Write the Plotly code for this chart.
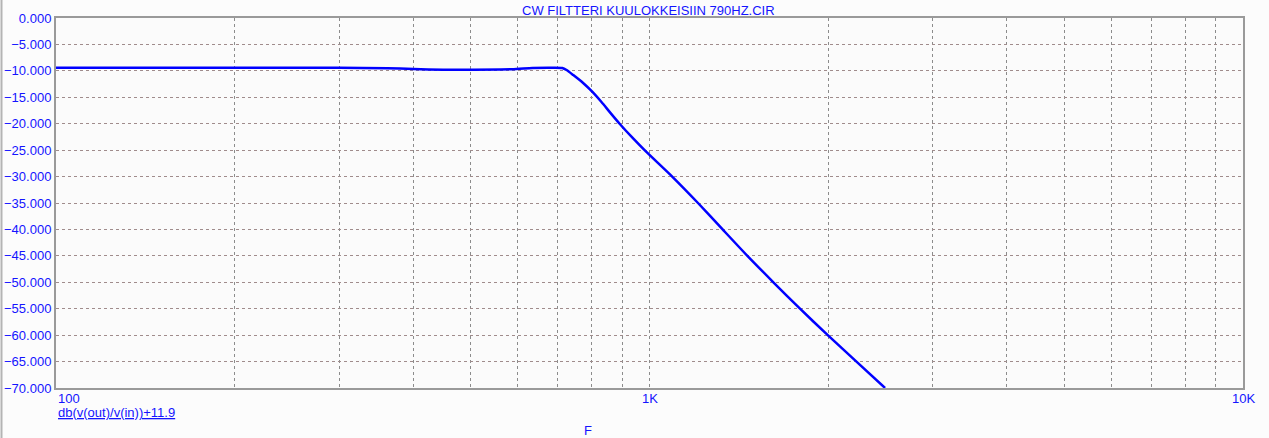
import math
import plotly.graph_objects as go

# Frequency response (Hz, dB)
freq_hz = [100, 150, 200, 300, 362, 400, 449, 500, 587, 635, 680, 713, 725, 744, 773,
           800, 830, 860, 892, 935, 985, 1092, 1207, 1328, 1462, 1617, 1793, 1997, 2232, 2494]
gain_db = [-9.40, -9.40, -9.40, -9.42, -9.50, -9.65, -9.78, -9.78, -9.70, -9.45, -9.40, -9.45, -9.85, -10.8, -12.3,
           -13.9, -15.9, -18.0, -20.1, -22.6, -25.2, -30.0, -35.0, -40.0, -45.0, -50.0, -55.0, -60.0, -65.0, -70.0]

x_grid = [100, 200, 300, 400, 500, 600, 700, 800, 900,
          1000, 2000, 3000, 4000, 5000, 6000, 7000, 8000, 9000, 10000]
x_label_vals = [100, 1000, 10000]
x_label_text = ["100", "1K", "10K"]
y_ticks = [0, -5, -10, -15, -20, -25, -30, -35, -40, -45, -50, -55, -60, -65, -70]

title_text = "CW FILTTERI KUULOKKEISIIN 790HZ.CIR"
y_name = "db(v(out)/v(in))+11.9"
x_name = "F"

BLUE = "#1414ff"
FONT = "Liberation Sans, Arial, sans-serif"
FS = 13

fig = go.Figure()
fig.add_trace(go.Scatter(x=freq_hz, y=gain_db, mode="lines",
                         line=dict(color="#0000ff", width=2.5, shape="spline", smoothing=0.6),
                         hoverinfo="skip", showlegend=False, cliponaxis=True))

L, R, T, B = 56, 26, 18, 50
W, H = 1269, 438
pw, ph = W - L - R, H - T - B

fig.update_layout(
    width=W, height=H,
    margin=dict(l=L, r=R, t=T, b=B),
    paper_bgcolor="#fcfcfc", plot_bgcolor="#fbfbfb",
    font=dict(family=FONT, size=FS, color=BLUE),
    showlegend=False,
)
fig.update_xaxes(type="log", range=[2, 4], tickvals=x_grid, showticklabels=False,
                 ticks="", showgrid=True, gridcolor="#8c8c8c", griddash="dot", gridwidth=1,
                 showline=True, mirror=True, linecolor="#9a9a9a", linewidth=2, zeroline=False,
                 automargin=False)
fig.update_yaxes(range=[-70, 0], tickvals=y_ticks, tickformat=".3f", ticks="",
                 tickfont=dict(family=FONT, size=FS, color=BLUE), ticklabelstandoff=0,
                 showgrid=True, gridcolor="#a08c8c", griddash="dot", gridwidth=1,
                 showline=True, mirror=True, linecolor="#9a9a9a", linewidth=2, zeroline=False,
                 automargin=False)

anns = []
for v, t in zip(x_label_vals, x_label_text):
    anns.append(dict(x=math.log10(v), y=0, xref="x", yref="paper", text=t, showarrow=False,
                     xanchor="left" if v == 100 else "center", yanchor="top", yshift=-1,
                     font=dict(family=FONT, size=FS, color=BLUE)))
anns.append(dict(x=(648 - L) / pw, y=1 + (T - 10) / ph, xref="paper", yref="paper", text=title_text,
                 showarrow=False, xanchor="center", yanchor="middle",
                 font=dict(family=FONT, size=FS, color=BLUE)))
anns.append(dict(x=0, y=-(412 - T - ph) / ph, xref="paper", yref="paper", text="<u>" + y_name + "</u>",
                 showarrow=False, xanchor="left", yanchor="middle",
                 font=dict(family=FONT, size=FS, color=BLUE)))
anns.append(dict(x=(588 - L) / pw, y=-(430 - T - ph) / ph, xref="paper", yref="paper", text=x_name,
                 showarrow=False, xanchor="center", yanchor="middle",
                 font=dict(family=FONT, size=FS, color=BLUE)))
fig.update_layout(annotations=anns)

# window border on the left edge
fig.add_shape(type="line", xref="paper", yref="paper",
              x0=(1.5 - L) / pw, x1=(1.5 - L) / pw, y0=-(B) / ph, y1=1 + T / ph,
              line=dict(color="#b4b4b4", width=2))

fig.write_html("out.html", config={"displayModeBar": False},
               post_script="document.body.style.margin='0';")
